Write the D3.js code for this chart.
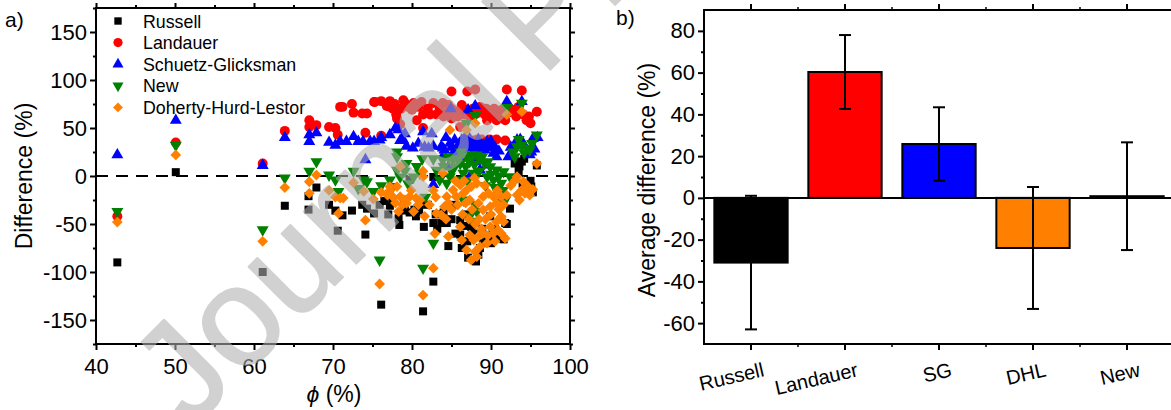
<!DOCTYPE html>
<html>
<head>
<meta charset="utf-8">
<script src="https://cdn.jsdelivr.net/npm/d3@7.9.0/dist/d3.min.js"></script>
<style>
  body { margin: 0; background: #fff; }
  svg { display: block; font-family: 'Liberation Sans', Arial, sans-serif; }
</style>
</head>
<body>
<svg id="chart" width="1171" height="410"></svg>
<script>
// panel a: [phi (%), difference (%)]
const russell = [
  [42.7,-90],[50.1,4],[61.1,-100],[63.9,-31],[66.9,-35],[66.9,-21],[67.9,-12],[69.5,-30],[70.3,-36],[70.6,-57],
  [71.2,-41],[72.4,-36],[73.7,-30],[74.3,-34],[74.1,-61],[75.2,-39],[75.9,-30],[76.1,-134],[77.2,-31],[77.5,-24],
  [78.3,-44],[78.4,-51],[79.1,-36],[79.7,-38],[79.7,-4],[80.3,-35],[80.9,-36],[81.4,-141],[81.5,-53],[82.0,-30],
  [82.7,-110],[82.7,-49],[82.7,-1],[83.7,-49],[84.4,-49],[84.6,-73],[85.3,-30],[86.1,-46],[86.1,-61],[86.3,-75],
  [86.8,-40],[87.1,-85],[87.5,-53],[88.1,-89],[88.6,-75],[88.9,-55],[89.4,-66],[89.7,-63],[89.9,-42],[90.2,-58],
  [90.7,-65],[91.1,-62],[91.6,-66],[91.8,-49],[92.4,-34],[93.0,13],[93.2,15],[93.9,15],[93.5,5],[94.0,-8],
  [94.5,-16],[95.1,-11],[95.3,-17],[95.8,11],
  [76.5,-26],[77.0,-40],[79.0,-30],[80.5,-42],[81.0,-30],[83.0,-40],[83.2,-55],[84.0,-38],[85.0,-45],[85.5,-60],
  [86.6,-52],[87.0,-68],[87.8,-60],[88.4,-82],[89.0,-70],[90.0,-70],[90.5,-55],[91.3,-45],[92.0,-50],[93.6,10],
  [94.2,18],[95.0,-5]
];
const landauer = [
  [42.7,-42],[50.1,35],[61.1,13],[63.9,47],[67.0,58],[67.0,51],[67.9,53],[69.5,51],[70.3,50],[70.6,43],
  [70.9,72],[71.2,72],[72.4,75],[72.6,66],[73.7,65],[74.3,65],[74.1,45],[75.2,77],[75.3,77],[76.1,42],
  [76.1,78],[77.2,78],[77.2,72],[77.6,70],[78.0,64],[78.1,60],[78.5,54],[78.9,79],[79.1,76],[80.0,69],
  [80.2,76],[80.6,58],[81.2,77],[81.4,64],[81.4,50],[82.3,64],[82.7,76],[83.1,64],[83.9,76],[84.0,62],
  [84.4,65],[85.0,88],[85.0,70],[85.0,60],[85.8,62],[86.1,69],[86.1,51],[86.3,74],[86.9,69],[87.0,88],
  [87.3,62],[87.4,65],[87.8,37],[88.0,90],[88.2,65],[88.8,38],[89.0,69],[89.4,70],[89.5,58],[89.8,38],
  [89.9,62],[90.1,65],[90.7,58],[90.7,38],[91.1,65],[91.4,69],[91.8,58],[91.8,37],[92.0,90],[92.6,69],
  [93.0,69],[93.2,62],[93.9,89],[94.1,64],[94.5,58],[95.0,55],[95.8,67],
  [76.8,73],[77.8,75],[78.6,70],[79.5,72],[80.8,72],[82.0,70],[83.5,70],[84.6,74],[85.5,66],[86.6,64],
  [87.7,70],[88.6,72],[89.2,64],[90.4,70],[91.5,62],[92.2,66],[93.5,72],[94.8,62],[88.3,38],[90.2,37]
];
const schuetz = [
  [42.7,22],[50.1,58],[61.1,11],[63.9,40],[67.0,43],[67.0,36],[67.9,45],[69.5,35],[70.3,32],[70.9,36],
  [71.7,36],[72.6,41],[73.2,36],[73.8,36],[74.1,17],[74.7,36],[75.2,36],[75.9,37.5],[76.1,40],[77.2,43],
  [77.9,50],[78.3,48],[78.5,37],[78.9,37.5],[79.1,44],[79.3,31],[80.1,29],[80.8,34],[81.4,46],[81.6,30],
  [82.1,29],[82.5,44],[82.7,31],[82.7,-9],[83.7,30.6],[83.9,29],[84.1,27],[84.6,9.7],[84.8,34],[84.9,70],
  [85.2,23.6],[85.4,37.5],[85.9,30.6],[86.3,37.5],[86.5,27],[86.9,32],[87.1,68.8],[87.3,39],[87.3,-0.7],[87.8,30.6],
  [88.0,73],[88.2,34],[88.6,27],[88.6,6.3],[89.0,32],[89.5,35.8],[89.5,11.5],[89.9,29],[90.3,23.6],[90.7,20],
  [92.0,77.5],[92.2,20],[93.3,37.5],[93.7,38],[93.9,77.5],[94.9,22],[95.1,25],[95.3,39],[95.9,40],
  [84.3,40],[85.0,30],[85.7,26],[86.0,34],[86.7,40],[87.0,29],[87.5,34],[88.0,28],[88.4,38],[88.8,31],
  [89.2,27],[89.7,32],[90.0,36],[90.5,30],[91.0,26],[84.0,22],[86.2,20],[88.0,15],[92.5,30],[93.0,32],
  [94.0,35],[95.5,28]
];
const newModel = [
  [42.7,-37],[50.1,32],[61.1,-56],[63.9,-2],[67.0,5],[67.9,15],[69.5,1],[70.3,-4],[70.7,-16],[72.6,5],
  [73.2,-13],[73.9,-4],[74.3,-6],[75.1,-16],[75.9,-87.5],[76.1,-10],[77.2,-4],[77.6,-11],[78.1,25],[78.1,20],
  [78.1,6],[78.5,-1],[79.1,5],[79.3,13],[79.5,-8],[80.2,-1],[80.6,10],[81.0,3],[81.3,18],[81.4,-96],
  [81.7,-22],[82.7,18],[82.7,-70],[83.1,6],[83.5,-4],[83.9,16.7],[84.4,-7.6],[84.8,-0.7],[85.2,16.7],[85.4,9.7],
  [85.6,-4],[86.1,13],[86.5,3],[86.9,20],[86.9,55],[87.3,15],[87.3,-42],[87.8,3],[87.8,-47],[88.0,63],
  [88.2,21.9],[88.2,-37],[88.6,18.4],[89.2,13],[89.5,-0.7],[89.9,9.7],[90.3,-4],[90.7,6.3],[90.9,-27],[91.3,-7.6],
  [91.6,4.5],[91.8,-25],[92.0,71.5],[92.4,-0.7],[93.3,30.6],[93.9,32],[93.9,75.7],[94.5,29],[94.9,27],[95.8,42.7],
  [84.0,10],[84.6,20],[85.0,5],[85.8,18],[86.2,25],[86.8,10],[87.0,-5],[87.5,22],[87.9,12],[88.5,5],
  [88.9,20],[89.3,-10],[89.6,15],[90.0,2],[90.5,-12],[91.0,0],[91.5,-15],[92.8,25],[93.5,38],[94.2,24],
  [95.2,34],[93.0,20],[88.0,-30],[86.5,-25]
];
const doherty = [
  [42.7,-48],[50.1,22],[61.1,-68],[63.9,-12],[67.0,-6],[67.0,-18],[67.9,1],[69.5,-15],[70.3,-22],[70.7,-39],
  [70.9,-23],[71.3,-23],[72.6,-7],[73.9,-16],[74.1,-46],[75.1,-24],[75.9,-112.5],[76.1,-17],[77.2,-11],[77.2,-15],
  [77.6,-22],[78.1,-11],[78.3,-37],[78.5,10],[78.5,-21.5],[79.1,-25],[79.3,-28.5],[79.7,-21.5],[80.2,-37],[80.5,-23],
  [81.0,-25],[81.4,-0.7],[81.4,-124],[81.4,5],[81.6,-42],[82.7,-96],[82.7,-15],[82.9,-60],[83.1,-39],[83.7,-40.6],
  [83.9,3],[84.1,-32],[84.4,-21.5],[84.6,-63],[84.6,-28.5],[84.8,48],[85.2,-14.6],[85.6,-21.5],[86.1,-9.3],[86.1,-52.8],
  [86.3,-66.7],[86.5,-18],[86.9,-14.6],[86.9,-77],[86.9,48],[87.3,-61.5],[87.3,-25],[87.5,-11],[87.5,-87.5],[87.8,-66.7],
  [88.0,55],[88.0,-78.8],[88.2,-7.6],[88.2,-84],[88.4,-28.5],[88.4,-63],[88.6,-73.6],[89.0,-59.7],[89.0,-35.4],[89.0,-21.5],
  [89.5,-70],[89.7,-18],[89.9,-52.8],[89.9,-32],[90.3,-21.5],[90.3,-59.7],[90.7,-47.6],[90.7,-28.5],[90.9,-56.3],[91.3,-59.7],
  [91.3,-42.4],[91.3,-21.5],[91.6,-47.6],[91.8,-65],[92.0,64],[93.3,-0.7],[93.3,-19.8],[93.9,-14.6],[93.9,67],[94.1,-5.9],
  [94.7,-11],[95.8,13],
  [84.3,-45],[85.0,-35],[85.8,-30],[86.4,-40],[86.8,-28],[87.2,-45],[87.6,-35],[88.0,-50],[88.5,-45],[88.8,-55],
  [89.3,-45],[89.6,-62],[90.0,-40],[90.5,-68],[91.0,-35],[91.6,-30],[92.0,-20],[92.5,-10],[93.0,-5],[93.6,-25],
  [94.3,-18],[94.9,-20],[95.3,-14],[85.5,-5],[86.6,-5],[87.9,-2],[89.2,-10],[90.8,-15],[83.0,-22],[82.2,-30],
  [80.8,-30],[79.9,-15],[78.8,-30],[77.9,-28],[76.9,-20]
];

const seriesNames = ['Russell', 'Landauer', 'Schuetz-Glicksman', 'New', 'Doherty-Hurd-Lestor'];

// panel b
const barLabels = ['Russell', 'Landauer', 'SG', 'DHL', 'New'];
const barMeans = [-31, 60.3, 25.8, -24, 0.8];
const barErrors = [32, 17.7, 17.6, 29.2, 25.8];

const xTicksA = [40, 50, 60, 70, 80, 90, 100];
const yTicksA = [-150, -100, -50, 0, 50, 100, 150];
const yTicksB = [-60, -40, -20, 0, 20, 40, 60, 80];

const svg = d3.select('#chart');

const styles = [
  { color: '#000000', type: d3.symbolSquare, size: 64, rot: 0 },
  { color: '#ff0000', type: d3.symbolCircle, size: 78, rot: 0 },
  { color: '#0000ff', type: d3.symbolTriangle, size: 62, rot: 0 },
  { color: '#008000', type: d3.symbolTriangle, size: 62, rot: 180 },
  { color: '#ff8000', type: d3.symbolSquare, size: 58, rot: 45 }
];
const allSeries = [russell, landauer, schuetz, newModel, doherty];

// ---------- panel a ----------
let x = d3.scaleLinear().domain([40, 100]).range([96, 570]);
let y = d3.scaleLinear().domain([-175, 175]).range([344, 8]);

let gA = svg.append('g');

function drawAxes(g, axis, tr, major, minor, size, fmt) {
  let a = g.append('g').attr('transform', tr)
    .call(axis.tickValues(major).tickSize(size).tickSizeOuter(0).tickPadding(8).tickFormat(fmt));
  a.select('.domain').remove();
  a.selectAll('line').attr('stroke-width', 2);
  a.selectAll('text').attr('font-size', 22).attr('font-family', 'Liberation Sans, Arial, sans-serif').attr('fill', '#000');
  let m = g.append('g').attr('transform', tr)
    .call(axis.tickValues(minor).tickSize(3).tickFormat(''));
  m.select('.domain').remove();
  m.selectAll('line').attr('stroke-width', 2);
  return a;
}

let xMinorA = [45, 55, 65, 75, 85, 95];
let yMinorA = [-175, -125, -75, -25, 25, 75, 125, 175];
drawAxes(gA, d3.axisBottom(x), 'translate(0,344)', xTicksA, xMinorA, 6, d3.format('d'));
drawAxes(gA, d3.axisTop(x), 'translate(0,8)', xTicksA, xMinorA, 5, () => '');
let ya = drawAxes(gA, d3.axisLeft(y), 'translate(96,0)', yTicksA, yMinorA, 6, d => d);
ya.selectAll('text').text(d => d < 0 ? '-' + Math.abs(d) : d).attr('x', -9);
drawAxes(gA, d3.axisRight(y), 'translate(570,0)', yTicksA, yMinorA, 5, () => '');

// zero line
gA.append('line')
  .attr('x1', x(40)).attr('x2', x(100)).attr('y1', y(0)).attr('y2', y(0))
  .attr('stroke', '#000').attr('stroke-width', 2).attr('stroke-dasharray', '12,8');

allSeries.forEach((pts, i) => {
  let st = styles[i];
  let sym = d3.symbol().type(st.type).size(st.size);
  gA.append('g').selectAll('path')
    .data(pts)
    .join('path')
    .attr('d', sym)
    .attr('transform', d => `translate(${x(d[0])},${y(d[1])}) rotate(${st.rot})`)
    .attr('fill', st.color);
});

gA.append('rect')
  .attr('x', 96).attr('y', 8).attr('width', 474).attr('height', 336)
  .attr('fill', 'none').attr('stroke', '#000').attr('stroke-width', 2);

// legend
seriesNames.forEach((name, i) => {
  let st = styles[i];
  let cy = 21 + i * 21.6;
  gA.append('path')
    .attr('d', d3.symbol().type(st.type).size(st.size * 0.85)())
    .attr('transform', `translate(118,${cy}) rotate(${st.rot})`)
    .attr('fill', st.color);
  gA.append('text')
    .attr('x', 143).attr('y', cy + 6.5)
    .attr('font-size', 17.8)
    .text(name);
});

gA.append('text').attr('x', 5).attr('y', 27).attr('font-size', 21).text('a)');
gA.append('text')
  .attr('transform', 'translate(32,176) rotate(-90)')
  .attr('text-anchor', 'middle').attr('font-size', 23)
  .text('Difference (%)');
let xl = gA.append('text').attr('x', 334).attr('y', 402).attr('text-anchor', 'middle').attr('font-size', 23);
xl.append('tspan').attr('font-style', 'italic').text('\u03d5');
xl.append('tspan').text(' (%)');

// ---------- panel b ----------
let xb = d3.scaleBand().domain(barLabels).range([704, 1174]).paddingInner(0.22).paddingOuter(0.11);
let yb = d3.scaleLinear().domain([-70, 90]).range([344, 10]);
let barColors = ['#000000', '#ff0000', '#0000ff', '#ff8000', '#008000'];

let gB = svg.append('g');
let step = xb.step();
let centers = barLabels.map(d => xb(d) + xb.bandwidth() / 2);
let bounds = d3.range(1, barLabels.length).map(i => 704 + i * step);

let yMinorB = [-50, -30, -10, 10, 30, 50, 70];
let yAxB = gB.append('g').attr('transform', 'translate(704,0)')
  .call(d3.axisLeft(yb).tickValues(yTicksB).tickSize(6).tickPadding(3));
yAxB.select('.domain').remove();
yAxB.selectAll('line').attr('stroke-width', 2);
yAxB.selectAll('text').attr('font-size', 22).attr('font-family', 'Liberation Sans, Arial, sans-serif')
  .text(d => d < 0 ? '-' + Math.abs(d) : d);
let yMinB = gB.append('g').attr('transform', 'translate(704,0)')
  .call(d3.axisLeft(yb).tickValues(yMinorB).tickSize(3).tickFormat(''));
yMinB.select('.domain').remove();
yMinB.selectAll('line').attr('stroke-width', 2);

// category ticks, bottom and top
[[344, 1], [10, -1]].forEach(([yy, dir]) => {
  gB.selectAll(null).data(centers).join('line')
    .attr('x1', d => d).attr('x2', d => d).attr('y1', yy).attr('y2', yy + dir * 6)
    .attr('stroke', '#000').attr('stroke-width', 2);
  gB.selectAll(null).data(bounds).join('line')
    .attr('x1', d => d).attr('x2', d => d).attr('y1', yy).attr('y2', yy + dir * 3)
    .attr('stroke', '#000').attr('stroke-width', 1.5);
});

gB.selectAll('rect.bar')
  .data(barMeans)
  .join('rect')
  .attr('class', 'bar')
  .attr('x', (d, i) => xb(barLabels[i]))
  .attr('width', xb.bandwidth())
  .attr('y', d => yb(Math.max(0, d)))
  .attr('height', d => Math.abs(yb(d) - yb(0)))
  .attr('fill', (d, i) => barColors[i])
  .attr('stroke', '#000').attr('stroke-width', 2);

gB.append('line')
  .attr('x1', 704).attr('x2', 1174).attr('y1', yb(0)).attr('y2', yb(0))
  .attr('stroke', '#000').attr('stroke-width', 2);

// error bars
barMeans.forEach((m, i) => {
  let cx = centers[i];
  let e = barErrors[i];
  let eg = gB.append('g').attr('stroke', '#000').attr('stroke-width', 2);
  eg.append('line').attr('x1', cx).attr('x2', cx).attr('y1', yb(m + e)).attr('y2', yb(m - e));
  eg.append('line').attr('x1', cx - 6).attr('x2', cx + 6).attr('y1', yb(m + e)).attr('y2', yb(m + e));
  eg.append('line').attr('x1', cx - 6).attr('x2', cx + 6).attr('y1', yb(m - e)).attr('y2', yb(m - e));
});

gB.append('rect')
  .attr('x', 704).attr('y', 10).attr('width', 470).attr('height', 334)
  .attr('fill', 'none').attr('stroke', '#000').attr('stroke-width', 2);

barLabels.forEach((lab, i) => {
  gB.append('text')
    .attr('transform', `translate(${centers[i] + 14},376) rotate(-13)`)
    .attr('text-anchor', 'end').attr('font-size', 20)
    .text(lab);
});

gB.append('text').attr('x', 616).attr('y', 25).attr('font-size', 21).text('b)');
gB.append('text')
  .attr('transform', 'translate(655,180) rotate(-90)')
  .attr('text-anchor', 'middle').attr('font-size', 23)
  .text('Average difference (%)');

// watermark on top
svg.append('g').attr('opacity', 0.58)
  .append('text')
  .attr('transform', 'translate(190,430) rotate(-45)')
  .attr('font-size', 140)
  .attr('fill', 'rgb(176,176,176)')
  .attr('stroke', 'rgb(176,176,176)').attr('stroke-width', 2).attr('stroke-linejoin', 'round')
  .text('Journal Pre-proof');
</script>
</body>
</html>
